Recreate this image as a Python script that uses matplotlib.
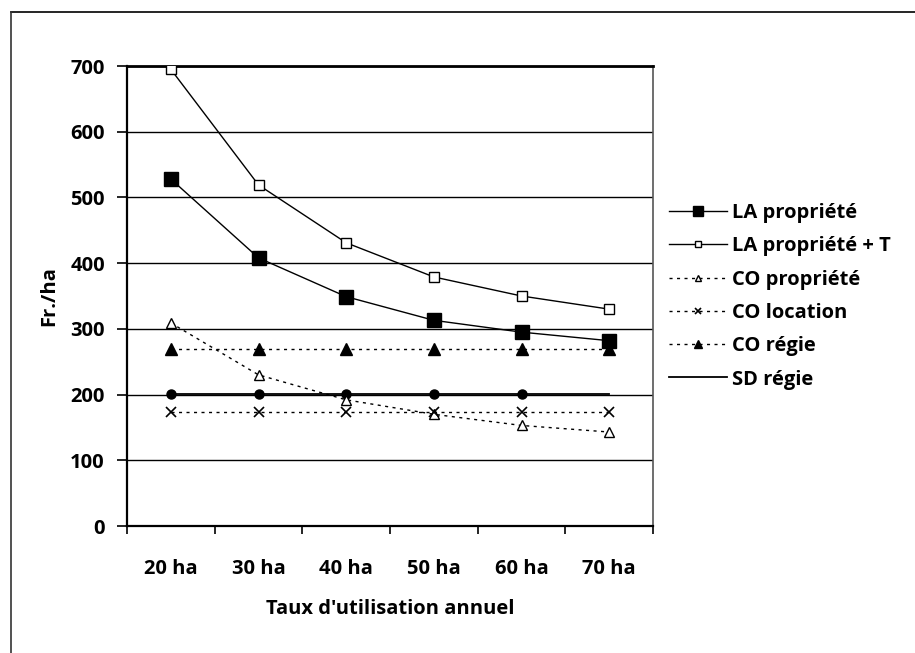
import matplotlib
matplotlib.use("Agg")
import matplotlib.pyplot as plt
from matplotlib.lines import Line2D

plt.rcParams['font.family'] = ['Open Sans', 'DejaVu Sans']
plt.rcParams['font.weight'] = 'bold'

categories = ["20 ha", "30 ha", "40 ha", "50 ha", "60 ha", "70 ha"]
la_propriete = [528, 408, 349, 313, 295, 282]
la_propriete_t = [695, 519, 431, 379, 350, 330]
co_propriete = [309, 230, 192, 170, 153, 143]
co_location = [174, 174, 174, 174, 174, 174]
co_regie = [270, 270, 270, 270, 270, 270]
sd_regie = [201, 201, 201, 201, 201, 201]
sd_regie_points = [201, 201, 201, 201, 201]
y_ticks = [0, 100, 200, 300, 400, 500, 600, 700]

FS = 14.5
W, H = 915, 653
fig = plt.figure(figsize=(W / 100, H / 100), dpi=100)

# outer frame: top and left edges only
fig.add_artist(Line2D([11 / W, 1.0], [1 - 12 / H, 1 - 12 / H], color='black', lw=1.2))
fig.add_artist(Line2D([11 / W, 11 / W], [0.0, 1 - 12 / H], color='#333333', lw=1.2))

ax = fig.add_axes([127 / W, 1 - 526 / H, (653 - 127) / W, (526 - 66) / H])
x = list(range(len(categories)))

dot = (0, (2.2, 3.2))
ax.plot(x, sd_regie, color='black', lw=1.3, label='SD régie', zorder=3)
ax.plot(x[:len(sd_regie_points)], sd_regie_points, ls='none', marker='o', ms=6.5,
        color='black', zorder=4)
ax.plot(x, la_propriete, color='black', lw=1.0, marker='s', ms=9.5, mfc='black',
        label='LA propriété', zorder=5)
ax.plot(x, la_propriete_t, color='black', lw=1.0, marker='s', ms=6.5, mfc='white',
        mew=1.0, label='LA propriété + T', zorder=5)
ax.plot(x, co_propriete, color='black', lw=1.0, ls=dot, marker='^', ms=7, mfc='white',
        mew=1.0, label='CO propriété', zorder=4)
ax.plot(x, co_location, color='black', lw=1.0, ls=dot, marker='x', ms=7, mew=1.2,
        label='CO location', zorder=4)
ax.plot(x, co_regie, color='black', lw=1.0, ls=dot, marker='^', ms=8, mfc='black',
        label='CO régie', zorder=4)

ax.set_xlim(-0.5, len(categories) - 0.5)
ax.set_ylim(0, 700)
ax.set_yticks(y_ticks)
ax.set_yticklabels([str(v) for v in y_ticks], fontsize=FS, fontweight='bold')
ax.set_xticks(x)
ax.set_xticklabels(categories, fontsize=FS, fontweight='bold')
ax.set_xticks([i - 0.5 for i in range(len(categories) + 1)], minor=True)
ax.tick_params(axis='x', which='major', length=0, pad=24)
ax.tick_params(axis='x', which='minor', length=6, width=1.2, direction='out')
ax.tick_params(axis='y', length=7, width=1.2, direction='out', pad=9)
ax.grid(axis='y', color='black', lw=1.0)
ax.set_axisbelow(True)
for s in ['left', 'bottom']:
    ax.spines[s].set_linewidth(1.6)
ax.spines['top'].set_linewidth(2.0)
ax.spines['right'].set_color('#555555')
ax.spines['right'].set_linewidth(1.2)

ax.set_xlabel("Taux d'utilisation annuel", fontsize=FS, fontweight='bold', labelpad=14)
ax.set_ylabel("Fr./ha", fontsize=FS, fontweight='bold', labelpad=8)

handles, labels = ax.get_legend_handles_labels()
order = ['LA propriété', 'LA propriété + T', 'CO propriété', 'CO location', 'CO régie', 'SD régie']
hl = dict(zip(labels, handles))
fig.legend([hl[k] for k in order], order, loc='upper left',
           bbox_to_anchor=(661 / W, 1 - 195 / H), frameon=False,
           prop={'size': FS, 'weight': 'bold'}, handlelength=2.9, markerscale=0.7,
           handletextpad=0.25, labelspacing=0.66, borderaxespad=0)

fig.savefig("out.png", dpi=100)
